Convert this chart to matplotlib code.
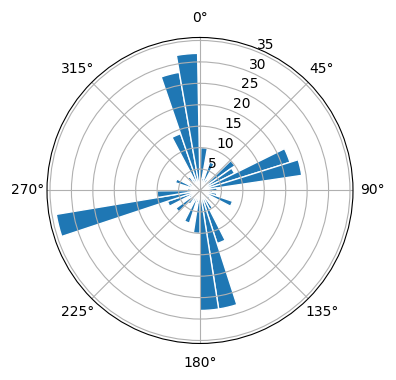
"""Polar histogram of directions (rose plot)."""

import matplotlib
matplotlib.use("Agg")
import matplotlib.pyplot as plt
import numpy as np

# bin edges in degrees (40 bins from ~1 to ~359)
BIN_LO = 1.0
BIN_HI = 359.0
COUNTS = [10, 3, 7, 3, 2, 10, 9, 22, 24, 4,
          3, 4, 8, 2, 3, 2, 5, 13, 28, 28,
          10, 3, 8, 3, 4, 7, 3, 8, 34, 10,
          3, 2, 6, 3, 2, 4, 3, 14, 28, 32]


def main():
    edges = np.deg2rad(np.linspace(BIN_LO, BIN_HI, len(COUNTS) + 1))
    widths = np.diff(edges)

    fig = plt.figure(figsize=(3.96, 3.8), dpi=100)
    ax = fig.add_axes([0.1187, 0.0961, 0.7727, 0.8053], projection="polar")
    ax.set_theta_zero_location("N")
    ax.set_theta_direction(-1)
    # grid stays on top of the bars (default polar behaviour)
    ax.bar(edges[:-1], COUNTS, width=widths, align="edge",
           color="#1f77b4", edgecolor="white", linewidth=1.0)
    ax.set_ylim(0, max(COUNTS) * 1.05)
    ax.grid(True)

    fig.savefig("out.png", dpi=100)
    plt.close(fig)


if __name__ == "__main__":
    main()
